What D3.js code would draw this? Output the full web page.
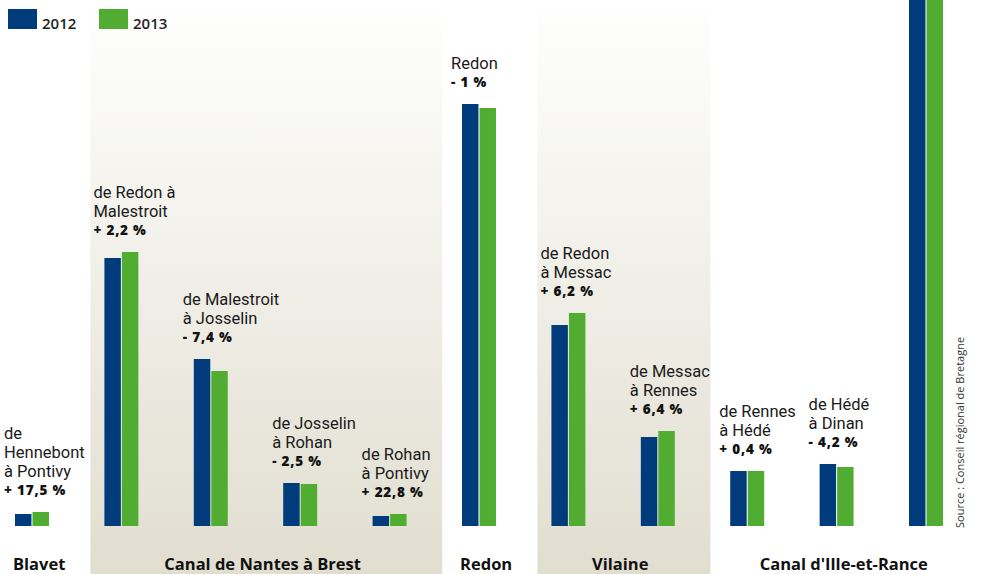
<!DOCTYPE html>
<html>
<head>
<meta charset="utf-8">
<script src="https://cdn.jsdelivr.net/npm/d3@7"></script>
<style>
  body { margin: 0; background: #fff; }
  svg { display: block; font-family: "Open Sans", sans-serif; }
  .name { font-family: Roboto, sans-serif; font-size: 16.5px; fill: #1a1a1a; }
  .pct { font-size: 13.5px; font-weight: 800; fill: #111; letter-spacing: 0.8px; }
  .region { font-size: 16.5px; font-weight: 700; fill: #111; }
</style>
</head>
<body>
<svg id="chart" width="1000" height="574"></svg>
<script>
// troncons, du Blavet au canal d'Ille-et-Rance
var sections = ["hennebont-pontivy", "redon-malestroit", "malestroit-josselin", "josselin-rohan",
	"rohan-pontivy", "redon", "redon-messac", "messac-rennes", "rennes-hede", "hede-dinan", "ille-rance"];
var sectionNames = [
	["de", "Hennebont", "à Pontivy"],
	["de Redon à", "Malestroit"],
	["de Malestroit", "à Josselin"],
	["de Josselin", "à Rohan"],
	["de Rohan", "à Pontivy"],
	["Redon"],
	["de Redon", "à Messac"],
	["de Messac", "à Rennes"],
	["de Rennes", "à Hédé"],
	["de Hédé", "à Dinan"],
	[]
];
var years = ["2012", "2013"];
var values2012 = [12, 268, 167, 43, 10, 422, 201, 89, 55, 62, 600];
var values2013 = [14, 274, 155, 42, 12, 418, 213, 95, 55, 59, 600];
var changes = [17.5, 2.2, -7.4, -2.5, 22.8, -1, 6.2, 6.4, 0.4, -4.2, null];

var regionNames = ["Blavet", "Canal de Nantes à Brest", "Redon", "Vilaine", "Canal d'Ille-et-Rance"];
var regionFirst = [0, 1, 5, 6, 8];
var regionLast = [0, 4, 5, 7, 10];
var regionShaded = [false, true, false, true, false];

var colors = {"2012": "#003b7b", "2013": "#51ad32"};

var width = 1000, height = 574, base = 526;
var svg = d3.select("#chart");

var defs = svg.append("defs");
var grad = defs.append("linearGradient")
	.attr("id", "beige")
	.attr("x1", 0).attr("y1", 0).attr("x2", 0).attr("y2", 1);
grad.append("stop").attr("offset", "0%").attr("stop-color", "#ffffff");
grad.append("stop").attr("offset", "8%").attr("stop-color", "#fcfcfa");
grad.append("stop").attr("offset", "100%").attr("stop-color", "#e1ded0");

var x = d3.scaleBand()
	.domain(sections)
	.range([15, 943])
	.paddingInner(0.62)
	.paddingOuter(0);

var x1 = d3.scaleBand()
	.domain(years)
	.range([0, x.bandwidth()])
	.paddingInner(0.06);

var y = d3.scaleLinear()
	.domain([0, base])
	.range([base, 0]);

var step = x.step();

// fonds des canaux
var regions = regionNames.map(function(n, i) {
	var left = x(sections[regionFirst[i]]),
		right = x(sections[regionLast[i]]) + x.bandwidth();
	return {name: n, left: left, right: right, shaded: regionShaded[i]};
});

svg.selectAll("rect.panel")
	.data(regions.filter(function(d){ return d.shaded; }))
	.enter().append("rect")
	.attr("class", "panel")
	.attr("x", function(d){ return d.left - 0.157 * step; })
	.attr("y", 0)
	.attr("width", function(d){ return d.right - d.left + 0.555 * step; })
	.attr("height", height)
	.attr("fill", "url(#beige)");

// barres
var rows = sections.map(function(s, i) {
	return {key: s, lines: sectionNames[i], change: changes[i],
		vals: [{year: "2012", v: values2012[i]}, {year: "2013", v: values2013[i]}]};
});

var g = svg.selectAll("g.section")
	.data(rows)
	.enter().append("g")
	.attr("class", "section")
	.attr("transform", function(d){ return "translate(" + x(d.key) + ",0)"; });

g.selectAll("rect")
	.data(function(d){ return d.vals; })
	.enter().append("rect")
	.attr("x", function(d){ return x1(d.year); })
	.attr("y", function(d){ return y(d.v); })
	.attr("width", x1.bandwidth())
	.attr("height", function(d){ return y(0) - y(d.v); })
	.attr("fill", function(d){ return colors[d.year]; });

function fmt(c) {
	var s = c < 0 ? "- " : "+ ";
	return s + String(Math.abs(c)).replace(".", ",") + " %";
}

// etiquettes
g.each(function(d) {
	if (!d.lines.length) return;
	var top = y(d3.max(d.vals, function(v){ return v.v; }));
	var pctY = top - 17;
	var lastY = pctY - 18;
	var sel = d3.select(this);
	d.lines.forEach(function(l, j) {
		sel.append("text")
			.attr("class", "name")
			.attr("x", -11)
			.attr("y", lastY - (d.lines.length - 1 - j) * 19)
			.text(l);
	});
	sel.append("text")
		.attr("class", "pct")
		.attr("x", -11)
		.attr("y", pctY)
		.text(fmt(d.change));
});

// noms des canaux
svg.selectAll("text.region")
	.data(regions)
	.enter().append("text")
	.attr("class", "region")
	.attr("x", function(d){ return (d.left + d.right) / 2 + 0.08 * step; })
	.attr("y", 570)
	.attr("text-anchor", "middle")
	.text(function(d){ return d.name; });

// legende
var legend = svg.selectAll("g.legend")
	.data(years)
	.enter().append("g")
	.attr("class", "legend")
	.attr("transform", function(d, i){ return "translate(" + (8 + i * 91) + ",9)"; });

legend.append("rect")
	.attr("width", 29)
	.attr("height", 20)
	.attr("fill", function(d){ return colors[d]; });

legend.append("text")
	.attr("x", 34)
	.attr("y", 20)
	.style("font-size", "15px")
	.style("font-weight", 600)
	.style("fill", "#222")
	.text(function(d){ return d; });

// source
svg.append("text")
	.attr("transform", "translate(964,528) rotate(-90)")
	.style("font-size", "11px")
	.style("fill", "#333")
	.text("Source : Conseil régional de Bretagne");
</script>
</body>
</html>
